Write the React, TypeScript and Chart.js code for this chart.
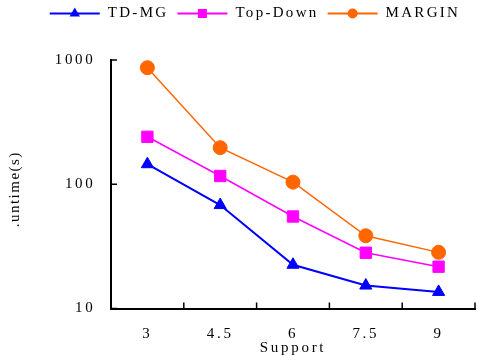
import React, { useEffect, useRef } from 'react';
import { Chart, registerables } from 'chart.js';

Chart.register(...registerables);

// ---- data ----
const SUPPORT = ['3', '4.5', '6', '7.5', '9'];
const SERIES_NAMES = ['TD-MG', 'Top-Down', 'MARGIN'];
const TD_MG = [145, 68, 22.5, 15.3, 13.6];
const TOP_DOWN = [241, 116.5, 55, 28.1, 21.7];
const MARGIN = [867, 197, 104, 38.5, 28.3];
const Y_TICKS = [10, 100, 1000];
const X_TITLE = 'Support';
const Y_TITLE = '.untime(s)';

// ---- styles ----
const FONT = '"Liberation Serif", "Times New Roman", serif';
const SPACING = '2.7px';
const LEGEND_SPACING = '2.3px';
const COLORS = ['#0000FF', '#FF00FF', '#FF6600'];
const STYLES = ['triangle', 'rect', 'circle'];

function drawMarker(ctx: CanvasRenderingContext2D, style: string, x: number, y: number, color: string) {
  ctx.fillStyle = color;
  ctx.beginPath();
  if (style === 'triangle') {
    const r = 6;
    ctx.moveTo(x, y - r);
    ctx.lineTo(x + r * 0.866, y + r / 2);
    ctx.lineTo(x - r * 0.866, y + r / 2);
    ctx.closePath();
  } else if (style === 'rect') {
    ctx.rect(x - 4.5, y - 4.5, 9, 9);
  } else {
    ctx.arc(x, y, 5, 0, Math.PI * 2);
  }
  ctx.fill();
}

export default function App() {
  const ref = useRef<HTMLCanvasElement>(null);

  useEffect(() => {
    const canvas = ref.current;
    if (!canvas) return;

    const setSpacing = (c: any) => {
      (c.ctx as any).letterSpacing = SPACING;
    };

    const spacingPlugin = {
      id: 'spacing',
      beforeUpdate: setSpacing,
      beforeLayout: setSpacing,
      beforeDraw: setSpacing,
      afterLayout(c: any) {
        const ys: any = c.scales.y;
        if (ys && !ys.__patched) {
          const orig = ys.drawTitle;
          ys.drawTitle = function (...args: any[]) {
            const ctx: any = c.ctx;
            ctx.save();
            ctx.letterSpacing = '1.5px';
            ctx.translate(0, 5);
            orig.apply(this, args);
            ctx.restore();
          };
          ys.__patched = true;
        }
      },
    };

    const innerTicks = {
      id: 'innerTicks',
      afterDraw(c: any) {
        const ctx: CanvasRenderingContext2D = c.ctx;
        const { left, bottom } = c.chartArea;
        const xs = c.scales.x;
        const ys = c.scales.y;
        ctx.save();
        ctx.strokeStyle = '#000';
        ctx.lineWidth = 1.5;
        ctx.beginPath();
        Y_TICKS.forEach((v) => {
          const py = ys.getPixelForValue(v);
          ctx.moveTo(left, py);
          ctx.lineTo(left + 6, py);
        });
        for (let i = 1; i <= SUPPORT.length; i++) {
          const px = xs.getPixelForValue(i - 0.5);
          ctx.moveTo(px, bottom);
          ctx.lineTo(px, bottom - 6);
        }
        ctx.stroke();
        ctx.restore();
      },
    };

    const legendPlugin = {
      id: 'lineLegend',
      afterDraw(c: any) {
        const ctx: any = c.ctx;
        ctx.save();
        ctx.letterSpacing = LEGEND_SPACING;
        ctx.font = `15px ${FONT}`;
        ctx.textBaseline = 'middle';
        ctx.textAlign = 'left';
        const lineLen = 50;
        const textGap = 8;
        const itemGap = 9;
        const widths = SERIES_NAMES.map((n) => lineLen + textGap + ctx.measureText(n).width);
        const total = widths.reduce((a, b) => a + b, 0) + itemGap * (widths.length - 1);
        let x = 255 - total / 2;
        const y = 13.5;
        SERIES_NAMES.forEach((name, i) => {
          ctx.strokeStyle = COLORS[i];
          ctx.lineWidth = 2;
          ctx.beginPath();
          ctx.moveTo(x, y);
          ctx.lineTo(x + lineLen, y);
          ctx.stroke();
          drawMarker(ctx, STYLES[i], x + lineLen / 2, y, COLORS[i]);
          ctx.fillStyle = '#000';
          ctx.fillText(name, x + lineLen + textGap, y);
          x += widths[i] + itemGap;
        });
        ctx.restore();
      },
    };

    const mk = (i: number, data: number[], width: number, radius: number) => ({
      label: SERIES_NAMES[i],
      data,
      borderColor: COLORS[i],
      backgroundColor: COLORS[i],
      borderWidth: width,
      pointStyle: STYLES[i] as any,
      pointRadius: radius,
      pointBorderWidth: 1,
      pointBackgroundColor: COLORS[i],
      pointBorderColor: COLORS[i],
      tension: 0,
    });

    const chart = new Chart(canvas, {
      type: 'line',
      data: {
        labels: SUPPORT,
        datasets: [mk(0, TD_MG, 2, 7), mk(1, TOP_DOWN, 1.5, 8), mk(2, MARGIN, 1.5, 7)],
      },
      options: {
        responsive: false,
        animation: false,
        devicePixelRatio: 1,
        layout: { padding: { top: 60, left: 0, right: 1, bottom: 4.5 } },
        plugins: {
          legend: { display: false },
          tooltip: { enabled: false },
        },
        scales: {
          x: {
            type: 'category',
            offset: true,
            grid: { display: false, offset: true, drawTicks: false, tickLength: 0 },
            border: { display: true, color: '#000', width: 2 },
            afterFit: (s: any) => {
              s.height = 47;
            },
            ticks: {
              color: '#000',
              font: { family: FONT, size: 15, lineHeight: 1 },
              padding: 18.5,
              autoSkip: false,
              maxRotation: 0,
            },
            title: {
              display: true,
              text: X_TITLE,
              color: '#000',
              font: { family: FONT, size: 15, lineHeight: 1 },
              padding: { top: 0, bottom: 0 },
            },
          },
          y: {
            type: 'logarithmic',
            min: 10,
            max: 1000,
            grid: { display: false, drawTicks: false, tickLength: 0 },
            border: { display: true, color: '#000', width: 2 },
            afterBuildTicks: (s: any) => {
              s.ticks = Y_TICKS.map((v) => ({ value: v }));
            },
            afterFit: (s: any) => {
              s.width = 111;
            },
            ticks: {
              color: '#000',
              font: { family: FONT, size: 15, lineHeight: 1 },
              padding: 15.5,
              callback: (v: any) => String(v),
            },
            title: {
              display: true,
              text: Y_TITLE,
              color: '#000',
              font: { family: FONT, size: 15, lineHeight: 1 },
              padding: { top: 7.5, bottom: 0 },
            },
          },
        },
      },
      plugins: [spacingPlugin, innerTicks, legendPlugin],
    });

    return () => chart.destroy();
  }, []);

  return (
    <div
      style={{
        position: 'fixed',
        left: 0,
        top: 0,
        width: 479,
        height: 360,
        overflow: 'hidden',
        background: '#fff',
      }}
    >
      <canvas ref={ref} width={484} height={360} style={{ display: 'block', width: 484, height: 360 }} />
    </div>
  );
}
